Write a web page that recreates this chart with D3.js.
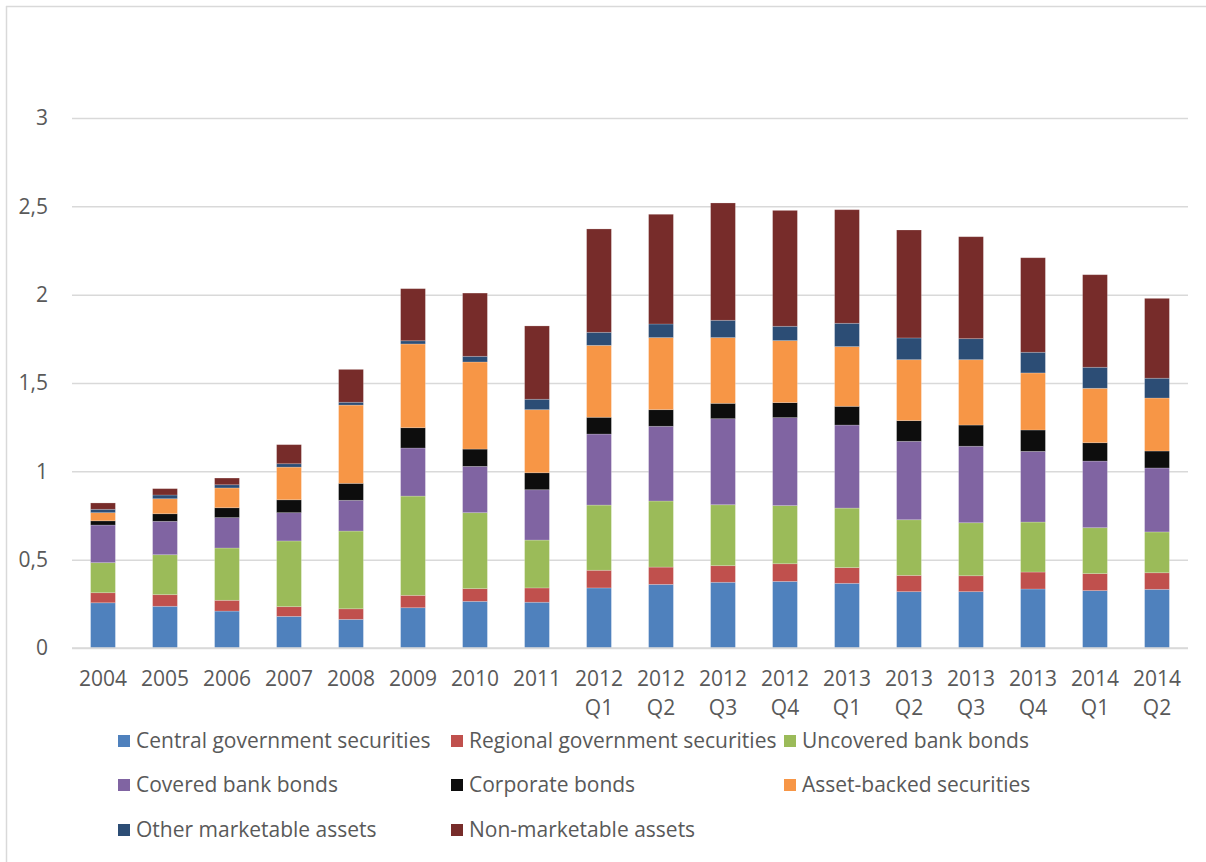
<!DOCTYPE html>
<html>
<head>
<meta charset="utf-8">
<script src="https://cdn.jsdelivr.net/npm/d3@7"></script>
<style>
  html, body { margin: 0; padding: 0; background: #fff; }
  svg { display: block; }
  text { font-family: "Open Sans", "Liberation Sans", sans-serif; fill: #595959; }
</style>
</head>
<body>
<svg id="chart" width="1206" height="862"></svg>
<script>
const categories = ["2004","2005","2006","2007","2008","2009","2010","2011",
  "2012 Q1","2012 Q2","2012 Q3","2012 Q4","2013 Q1","2013 Q2","2013 Q3","2013 Q4","2014 Q1","2014 Q2"];

const seriesNames = ["Central government securities","Regional government securities","Uncovered bank bonds",
  "Covered bank bonds","Corporate bonds","Asset-backed securities","Other marketable assets","Non-marketable assets"];

const central   = [0.256,0.236,0.209,0.179,0.162,0.228,0.264,0.259,0.340,0.360,0.372,0.377,0.366,0.319,0.319,0.334,0.325,0.332];
const regional  = [0.057,0.066,0.061,0.055,0.060,0.070,0.072,0.081,0.100,0.098,0.094,0.100,0.089,0.092,0.090,0.096,0.096,0.094];
const uncovered = [0.170,0.226,0.296,0.372,0.440,0.562,0.430,0.271,0.369,0.374,0.345,0.329,0.337,0.315,0.300,0.283,0.260,0.231];
const covered   = [0.213,0.189,0.172,0.160,0.174,0.272,0.262,0.285,0.402,0.423,0.487,0.498,0.470,0.444,0.433,0.400,0.377,0.362];
const corporate = [0.024,0.043,0.056,0.073,0.096,0.115,0.098,0.096,0.095,0.094,0.087,0.085,0.106,0.117,0.120,0.121,0.104,0.096];
const assetBacked = [0.046,0.085,0.112,0.185,0.443,0.474,0.493,0.357,0.407,0.408,0.372,0.351,0.338,0.345,0.370,0.323,0.308,0.300];
const otherMkt  = [0.019,0.021,0.018,0.019,0.016,0.018,0.032,0.059,0.074,0.077,0.098,0.081,0.132,0.123,0.119,0.117,0.119,0.112];
const nonMkt    = [0.036,0.036,0.038,0.108,0.186,0.295,0.358,0.415,0.585,0.621,0.664,0.656,0.643,0.611,0.577,0.535,0.524,0.452];

const yTicks = [0, 0.5, 1, 1.5, 2, 2.5, 3];
const colors = ["#4F81BD","#C0504D","#9BBB59","#8064A2","#0D0D0D","#F79646","#2C4D75","#772C2A"];

const seriesValues = [central, regional, uncovered, covered, corporate, assetBacked, otherMkt, nonMkt];
const keys = seriesNames;
const table = categories.map((c, i) => {
  const row = { cat: c };
  keys.forEach((k, j) => row[k] = seriesValues[j][i]);
  return row;
});

const FONT = "'Open Sans', 'Liberation Sans', sans-serif";
const FS = 21;

const svg = d3.select("#chart");
const W = 1206, H = 862;
const plot = { left: 72, right: 1188, top: 118, bottom: 648 };

// frame (top and left lines)
svg.append("line").attr("x1", 6.5).attr("x2", 6.5).attr("y1", 6).attr("y2", H)
  .attr("stroke", "#d9d9d9").attr("stroke-width", 1.5);
svg.append("line").attr("x1", 6).attr("x2", W).attr("y1", 6.5).attr("y2", 6.5)
  .attr("stroke", "#d9d9d9").attr("stroke-width", 1.5);

const x = d3.scaleBand().domain(categories).range([plot.left, plot.right]).paddingInner(0.6).paddingOuter(0.3);
const y = d3.scaleLinear().domain([0, 3]).range([plot.bottom, plot.top]);

// gridlines + y labels
const yAxis = d3.axisLeft(y).tickValues(yTicks)
  .tickFormat(d => d3.format("")(d).replace(".", ","))
  .tickSize(-(plot.right - plot.left)).tickPadding(24);
const gy = svg.append("g").attr("transform", `translate(${plot.left},0)`).call(yAxis);
gy.select(".domain").remove();
gy.selectAll(".tick line").attr("stroke", "#d9d9d9").attr("stroke-width", 1.5);
gy.selectAll(".tick text").attr("font-size", FS).attr("fill", "#595959").attr("font-family", FONT);

// stacked bars
const stack = d3.stack().keys(keys)(table);
const layers = svg.append("g").selectAll("g").data(stack).join("g")
  .attr("fill", (d, i) => colors[i]);
layers.selectAll("rect").data(d => d).join("rect")
  .attr("x", d => x(d.data.cat))
  .attr("width", x.bandwidth())
  .attr("y", d => y(d[1]))
  .attr("height", d => y(d[0]) - y(d[1]))
  .attr("stroke", "#ffffff").attr("stroke-opacity", 0.25).attr("stroke-width", 0.8);

// baseline
svg.append("line").attr("x1", plot.left).attr("x2", plot.right)
  .attr("y1", y(0)).attr("y2", y(0)).attr("stroke", "#d9d9d9").attr("stroke-width", 1.5);

// x axis labels (two lines)
const xAxis = d3.axisBottom(x).tickSize(0).tickFormat("");
const gx = svg.append("g").attr("transform", `translate(0,${plot.bottom})`).call(xAxis);
gx.select(".domain").remove();
gx.selectAll(".tick").each(function(d) {
  const parts = d.split(" ");
  const t = d3.select(this).append("text")
    .attr("text-anchor", "middle").attr("font-size", FS).attr("fill", "#595959")
    .attr("font-family", FONT);
  parts.forEach((p, i) => {
    t.append("tspan").attr("x", 0).attr("y", 38 + i * 29).text(p);
  });
});

// legend
const legendPos = [
  [118, 741], [451, 741], [784, 741],
  [118, 785], [451, 785], [784, 785],
  [118, 830], [451, 830]
];
const lg = svg.append("g");
keys.forEach((k, i) => {
  const [lx, ly] = legendPos[i];
  lg.append("rect").attr("x", lx).attr("y", ly - 6).attr("width", 12).attr("height", 12).attr("fill", colors[i]);
  lg.append("text").attr("x", lx + 18).attr("y", ly).attr("dy", "0.35em")
    .attr("font-size", FS).attr("fill", "#595959").attr("font-family", FONT).text(k);
});
</script>
</body>
</html>
